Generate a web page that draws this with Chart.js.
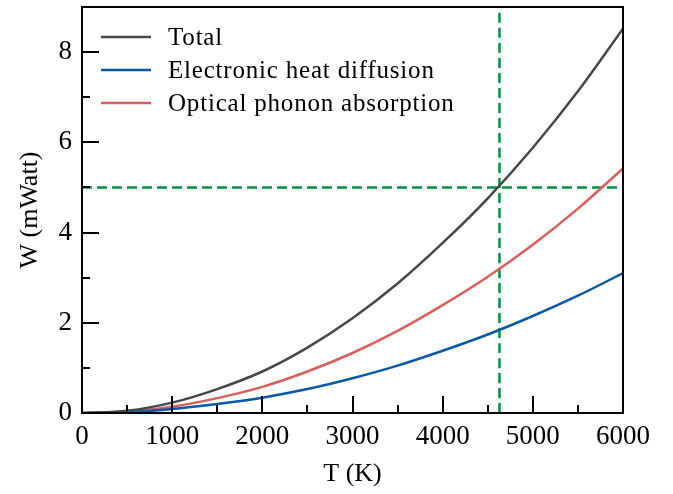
<!DOCTYPE html>
<html>
<head>
<meta charset="utf-8">
<script src="https://cdn.jsdelivr.net/npm/chart.js@4"></script>
<style>
  html, body { margin: 0; padding: 0; background: #fff; }
  #wrap { width: 673px; height: 494px; position: relative; }
</style>
</head>
<body>
<div id="wrap"><canvas id="chart"></canvas></div>
<script>
// temperatures (K)
const temps = [0, 500, 1000, 1500, 2000, 2500, 3000, 3500, 4000, 4500, 5000, 5500, 6000];
// W (mWatt)
const electronic = [0, 0.02, 0.09, 0.20, 0.34, 0.53, 0.77, 1.05, 1.38, 1.74, 2.15, 2.60, 3.10];
const optical    = [0, 0.03, 0.14, 0.33, 0.58, 0.92, 1.33, 1.82, 2.39, 3.02, 3.73, 4.53, 5.42];
const total      = [0, 0.05, 0.23, 0.53, 0.92, 1.45, 2.10, 2.87, 3.77, 4.76, 5.88, 7.13, 8.52];

const xTicks = [0, 1000, 2000, 3000, 4000, 5000, 6000];
const xMinor = [500, 1500, 2500, 3500, 4500, 5500];
const yTicks = [0, 2, 4, 6, 8];
const yMinor = [1, 3, 5, 7];

const markerT = 4630;   // vertical dashed line
const markerW = 5;      // horizontal dashed line

const font = "'Liberation Serif', 'DejaVu Serif', serif";

function toPoints(xs, ys) {
  return xs.map((x, i) => ({ x: x, y: ys[i] }));
}

// inward ticks, frame and legend inside the plot
const frame = {
  id: 'frame',
  afterDraw(chart) {
    const ctx = chart.ctx;
    const a = chart.chartArea;
    const xs = chart.scales.x, ys = chart.scales.y;
    ctx.save();
    ctx.strokeStyle = '#000';
    ctx.lineWidth = 2;
    ctx.strokeRect(a.left, a.top, a.right - a.left, a.bottom - a.top);

    ctx.beginPath();
    xTicks.forEach(v => {
      const px = Math.round(xs.getPixelForValue(v));
      ctx.moveTo(px, a.bottom); ctx.lineTo(px, a.bottom - 17);
    });
    xMinor.forEach(v => {
      const px = Math.round(xs.getPixelForValue(v));
      ctx.moveTo(px, a.bottom); ctx.lineTo(px, a.bottom - 8);
    });
    yTicks.forEach(v => {
      const py = Math.round(ys.getPixelForValue(v));
      ctx.moveTo(a.left, py); ctx.lineTo(a.left + 17, py);
    });
    yMinor.forEach(v => {
      const py = Math.round(ys.getPixelForValue(v));
      ctx.moveTo(a.left, py); ctx.lineTo(a.left + 8, py);
    });
    ctx.stroke();

    // legend
    ctx.font = '25px ' + font;
    ctx.letterSpacing = '0.8px';
    ctx.textBaseline = 'middle';
    ctx.textAlign = 'left';
    chart.data.datasets.slice(0, 3).forEach((ds, i) => {
      const y = a.top + 30 + i * 33;
      ctx.strokeStyle = ds.borderColor;
      ctx.lineWidth = 2.5;
      ctx.beginPath();
      ctx.moveTo(a.left + 19, y); ctx.lineTo(a.left + 69, y);
      ctx.stroke();
      ctx.fillStyle = '#000';
      ctx.fillText(ds.label, a.left + 86, y + 1);
    });
    ctx.restore();
  }
};

new Chart(document.getElementById('chart'), {
  type: 'line',
  data: {
    datasets: [
      { label: 'Total', data: toPoints(temps, total), borderColor: '#474747' },
      { label: 'Electronic heat diffusion', data: toPoints(temps, electronic), borderColor: '#0a58a6' },
      { label: 'Optical phonon absorption', data: toPoints(temps, optical), borderColor: '#d85f5c' },
      { label: 'h', data: [{ x: 0, y: markerW }, { x: 6000, y: markerW }],
        borderColor: '#00913f', borderDash: [10, 5], borderWidth: 2.5 },
      { label: 'v', data: [{ x: markerT, y: 0 }, { x: markerT, y: 9 }],
        borderColor: '#00913f', borderDash: [10, 5], borderWidth: 2.5 }
    ]
  },
  options: {
    responsive: true,
    maintainAspectRatio: false,
    animation: false,
    layout: { padding: { top: 7, right: 50, left: 0, bottom: 0 } },
    elements: {
      point: { radius: 0 },
      line: { borderWidth: 2.5, cubicInterpolationMode: 'monotone', fill: false }
    },
    plugins: { legend: { display: false }, tooltip: { enabled: false } },
    scales: {
      x: {
        type: 'linear', min: 0, max: 6000,
        grid: { display: false, drawTicks: false },
        border: { display: false },
        afterBuildTicks: s => { s.ticks = xTicks.map(v => ({ value: v })); },
        afterFit: s => { s.height = 81; s.paddingLeft = 0; s.paddingRight = 0; },
        ticks: { color: '#000', font: { family: font, size: 27 }, padding: 8, maxRotation: 0,
                 callback: v => String(v) },
        title: { display: true, text: 'T (K)', color: '#000', font: { family: font, size: 26 }, padding: { top: 0 } }
      },
      y: {
        type: 'linear', min: 0, max: 9,
        grid: { display: false, drawTicks: false },
        border: { display: false },
        afterBuildTicks: s => { s.ticks = yTicks.map(v => ({ value: v })); },
        afterFit: s => { s.width = 82; s.paddingTop = 0; s.paddingBottom = 0; },
        ticks: { color: '#000', font: { family: font, size: 27 }, padding: 10,
                 callback: v => String(v) },
        title: { display: true, text: 'W (mWatt)', color: '#000', font: { family: font, size: 26 }, padding: { top: 15, bottom: 0 } }
      }
    }
  },
  plugins: [frame]
});
</script>
</body>
</html>
